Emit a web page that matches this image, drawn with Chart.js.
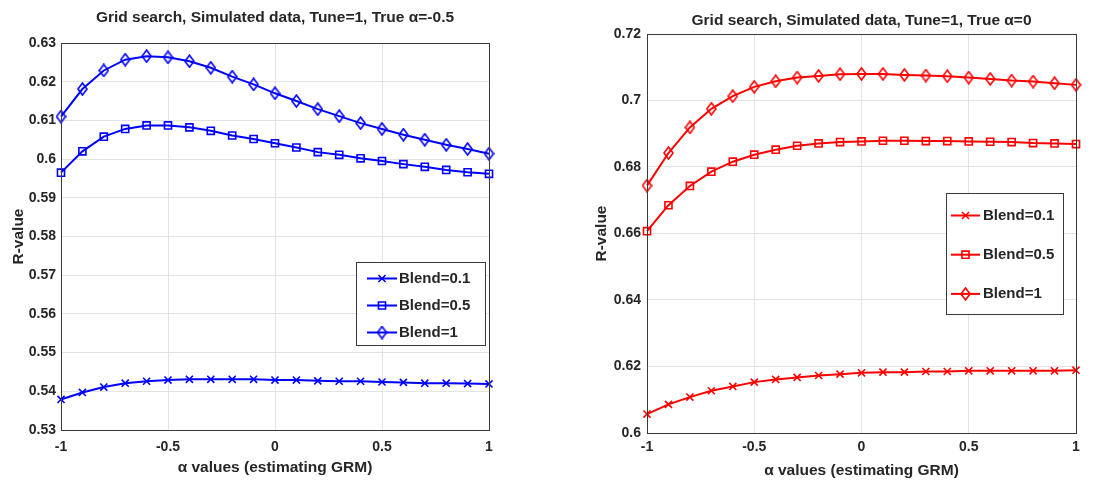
<!DOCTYPE html>
<html>
<head>
<meta charset="utf-8">
<script src="https://cdn.jsdelivr.net/npm/chart.js@4.4.0/dist/chart.umd.min.js"></script>
<style>
  html, body { margin: 0; padding: 0; background: #fff; }
  #wrap { position: relative; width: 1105px; height: 480px; }
  .panel { position: absolute; top: 0; height: 480px; }
</style>
</head>
<body>
<div id="wrap">
  <div class="panel" style="left:0;width:552px"><canvas id="leftChart"></canvas></div>
  <div class="panel" style="left:552px;width:553px"><canvas id="rightChart"></canvas></div>
</div>
<script>
// grid of alpha values used for estimating the GRM
const alphaValues = [-1, -0.9, -0.8, -0.7, -0.6, -0.5, -0.4, -0.3, -0.2, -0.1, 0,
                     0.1, 0.2, 0.3, 0.4, 0.5, 0.6, 0.7, 0.8, 0.9, 1];
const blendLabels = ['Blend=0.1', 'Blend=0.5', 'Blend=1'];

// True alpha = -0.5
const leftBlend01 = [0.5379, 0.5397, 0.5411, 0.5421, 0.5426, 0.5429, 0.5431, 0.5431, 0.5431, 0.5431, 0.5429,
                     0.5429, 0.5427, 0.5426, 0.5426, 0.5424, 0.5423, 0.5421, 0.5421, 0.5420, 0.5419];
const leftBlend05 = [0.5965, 0.6020, 0.6058, 0.6078, 0.6087, 0.6087, 0.6082, 0.6073, 0.6061, 0.6052, 0.6041,
                     0.6030, 0.6018, 0.6011, 0.6002, 0.5995, 0.5987, 0.5980, 0.5972, 0.5966, 0.5962];
const leftBlend1  = [0.6110, 0.6181, 0.6229, 0.6257, 0.6266, 0.6263, 0.6253, 0.6236, 0.6213, 0.6193, 0.6170,
                     0.6150, 0.6129, 0.6111, 0.6093, 0.6078, 0.6063, 0.6050, 0.6037, 0.6026, 0.6014];

// True alpha = 0
const rightBlend01 = [0.6057, 0.6086, 0.6108, 0.6127, 0.6140, 0.6153, 0.6161, 0.6167, 0.6173, 0.6177, 0.6181,
                      0.6183, 0.6183, 0.6185, 0.6185, 0.6187, 0.6187, 0.6187, 0.6187, 0.6187, 0.6189];
const rightBlend05 = [0.6607, 0.6685, 0.6743, 0.6786, 0.6816, 0.6837, 0.6852, 0.6864, 0.6871, 0.6875, 0.6877,
                      0.6879, 0.6879, 0.6878, 0.6878, 0.6877, 0.6876, 0.6875, 0.6872, 0.6871, 0.6869];
const rightBlend1  = [0.6744, 0.6842, 0.6919, 0.6975, 0.7013, 0.7041, 0.7058, 0.7069, 0.7074, 0.7079, 0.7080,
                      0.7080, 0.7077, 0.7075, 0.7073, 0.7069, 0.7065, 0.7060, 0.7057, 0.7052, 0.7047];

const textColor = '#262626';
const gridColor = '#e3e3e3';
const axisColor = '#3a3a3a';
const fontFamily = "'Liberation Sans', Arial, sans-serif";

function diamondMarker(color) {
    const c = document.createElement('canvas');
    c.width = 11; c.height = 14;
    const g = c.getContext('2d');
    g.strokeStyle = color;
    g.lineWidth = 1.6;
    g.beginPath();
    g.moveTo(5.5, 1); g.lineTo(10, 7); g.lineTo(5.5, 13); g.lineTo(1, 7);
    g.closePath();
    g.stroke();
    return c;
}

function toPoints(values) {
    return alphaValues.map((a, i) => ({ x: a, y: values[i] }));
}

function makeDatasets(series, color) {
    const styles = ['crossRot', 'rect', diamondMarker(color)];
    return series.map((values, i) => ({
        label: blendLabels[i],
        data: toPoints(values),
        borderColor: color,
        borderWidth: 2,
        pointStyle: styles[i],
        pointRadius: 5,
        pointBorderWidth: 1.6,
        pointBorderColor: color,
        pointBackgroundColor: 'rgba(0,0,0,0)',
        tension: 0,
        clip: false,
    }));
}

// axes box + MATLAB-like legend inside the plot
const frameAndLegend = {
    id: 'frameAndLegend',
    afterDatasetsDraw(chart, args, opts) {
        const ctx = chart.ctx;
        const a = chart.chartArea;
        ctx.save();
        ctx.strokeStyle = axisColor;
        ctx.lineWidth = 1;
        ctx.strokeRect(Math.round(a.left) + 0.5, Math.round(a.top) + 0.5,
                       Math.round(a.right - a.left), Math.round(a.bottom - a.top));

        const b = opts.box;
        ctx.fillStyle = '#fff';
        ctx.fillRect(b.left, b.top, b.width, b.height);
        ctx.strokeStyle = axisColor;
        ctx.strokeRect(b.left + 0.5, b.top + 0.5, b.width, b.height);

        chart.data.datasets.forEach((ds, i) => {
            const y = b.top + opts.firstRow + i * opts.rowGap;
            const x0 = b.left + opts.sampleStart;
            const x1 = x0 + opts.sampleLen;
            ctx.strokeStyle = ds.borderColor;
            ctx.lineWidth = ds.borderWidth;
            ctx.beginPath();
            ctx.moveTo(x0, y);
            ctx.lineTo(x1, y);
            ctx.stroke();
            ctx.lineWidth = ds.pointBorderWidth;
            ctx.fillStyle = 'rgba(0,0,0,0)';
            Chart.helpers.drawPoint(ctx, {
                pointStyle: ds.pointStyle, radius: ds.pointRadius,
                borderWidth: ds.pointBorderWidth, rotation: 0
            }, (x0 + x1) / 2, y);
            ctx.fillStyle = textColor;
            ctx.font = 'bold 15px ' + fontFamily;
            ctx.textBaseline = 'middle';
            ctx.textAlign = 'left';
            ctx.fillText(ds.label, x1 + opts.textGap, y);
        });
        ctx.restore();
    }
};

function makeChart(id, cfg) {
    const tickFont = { family: fontFamily, size: 14, weight: 'bold' };
    const labelFont = { family: fontFamily, size: 15.5, weight: 'bold' };
    return new Chart(document.getElementById(id).getContext('2d'), {
        type: 'line',
        data: { datasets: makeDatasets(cfg.series, cfg.color) },
        options: {
            responsive: true,
            maintainAspectRatio: false,
            animation: false,
            layout: { padding: { left: 0, right: cfg.padRight, top: 0, bottom: 0 } },
            scales: {
                x: {
                    type: 'linear', min: -1, max: 1,
                    ticks: { stepSize: 0.5, padding: cfg.xTickPad, color: textColor, font: tickFont,
                             callback: v => String(v) },
                    grid: { color: gridColor, drawTicks: false },
                    border: { color: axisColor },
                    title: { display: true, text: 'α values (estimating GRM)', color: textColor,
                             font: labelFont, padding: { top: 0, bottom: cfg.xTitlePad } },
                    afterFit: s => { s.height = cfg.xHeight; }
                },
                y: {
                    min: cfg.yMin, max: cfg.yMax,
                    ticks: { stepSize: cfg.yStep, padding: cfg.yTickPad, color: textColor, font: tickFont,
                             callback: v => String(Math.round(v * 100) / 100) },
                    grid: { color: gridColor, drawTicks: false },
                    border: { color: axisColor },
                    title: { display: true, text: 'R-value', color: textColor,
                             font: labelFont, padding: { top: cfg.yTitlePad, bottom: 0 } },
                    afterFit: s => { s.width = cfg.yWidth; }
                }
            },
            plugins: {
                legend: { display: false },
                tooltip: { enabled: false },
                title: {
                    display: true,
                    text: cfg.title,
                    fullSize: false,
                    color: textColor,
                    font: labelFont,
                    padding: cfg.titlePad
                },
                frameAndLegend: cfg.legend
            }
        },
        plugins: [frameAndLegend]
    });
}

makeChart('leftChart', {
    title: 'Grid search, Simulated data, Tune=1, True α=-0.5',
    series: [leftBlend01, leftBlend05, leftBlend1],
    color: '#0000ff',
    yMin: 0.53, yMax: 0.63, yStep: 0.01,
    padRight: 63, yWidth: 61, xHeight: 50,
    xTickPad: 9, xTitlePad: 3, yTickPad: 5, yTitlePad: 9,
    titlePad: { top: 8.7, bottom: 15.7 },
    legend: { box: { left: 356, top: 262, width: 129, height: 83 },
              firstRow: 16.5, rowGap: 27, sampleStart: 11, sampleLen: 30, textGap: 2 }
});

makeChart('rightChart', {
    title: 'Grid search, Simulated data, Tune=1, True α=0',
    series: [rightBlend01, rightBlend05, rightBlend1],
    color: '#ff0000',
    yMin: 0.6, yMax: 0.72, yStep: 0.02,
    padRight: 29, yWidth: 95, xHeight: 47,
    xTickPad: 6, xTitlePad: 0, yTickPad: 6, yTitlePad: 40.4,
    titlePad: { top: 11.7, bottom: 3.7 },
    legend: { box: { left: 394, top: 193, width: 117, height: 121 },
              firstRow: 22.5, rowGap: 39.2, sampleStart: 5, sampleLen: 29, textGap: 3 }
});
</script>
</body>
</html>
